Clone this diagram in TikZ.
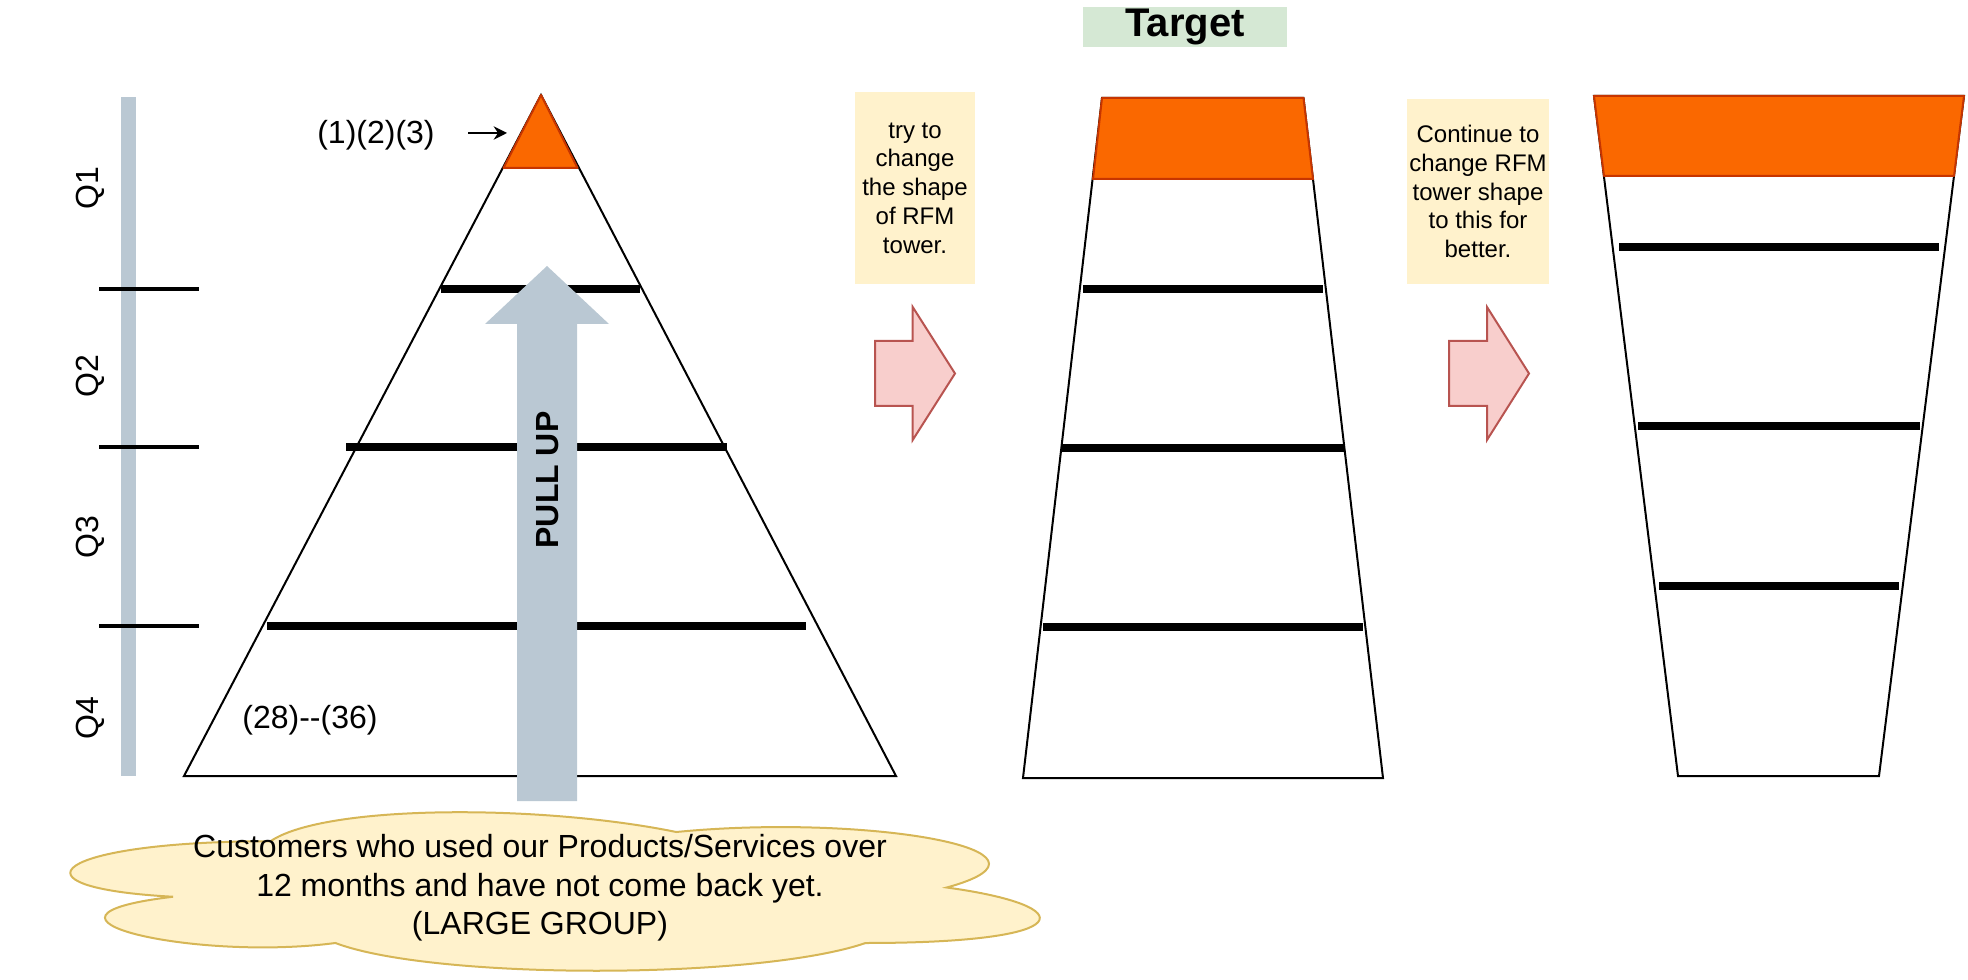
\documentclass[tikz,border=0pt]{standalone}
\usepackage{fontspec}
\setmainfont{Liberation Sans}
\usepackage{xcolor}
\usepackage{tikz}
\usetikzlibrary{arrows.meta}

\definecolor{barGray}{HTML}{BAC8D3}
\definecolor{topOrange}{HTML}{FA6800}
\definecolor{topOrangeLine}{HTML}{C73500}
\definecolor{noteYellow}{HTML}{FFF2CC}
\definecolor{cloudLine}{HTML}{D6B656}
\definecolor{stepPink}{HTML}{F8CECC}
\definecolor{stepPinkLine}{HTML}{B85450}
\definecolor{targetGreen}{HTML}{D5E8D4}

\begin{document}
\begin{tikzpicture}[x=0.75pt,y=0.75pt,yscale=-1,xscale=1,
  outline/.style={line width=1.5pt},
  rung/.style={line width=6pt},
  tick/.style={line width=3pt},
  toptier/.style={fill=topOrange,draw=topOrangeLine,line width=1.5pt,line join=round},
  stepArrow/.style={fill=stepPink,draw=stepPinkLine,line width=1.5pt},
  bigtext/.style={inner sep=0pt,font=\fontsize{24}{28.8}\selectfont},
  notetext/.style={fill=noteYellow,inner sep=0pt,align=center,font=\fontsize{18}{21.6}\selectfont}]

\useasboundingbox (0,0) rectangle (1968,980);

%Shape: Rectangle [quarter bar]
\fill [barGray] (120.5,97) rectangle (135.5,776);
%Straight Lines [quarter ticks]
\draw [tick] (99,289) -- (199,289);
\draw [tick] (99,447) -- (199,447);
\draw [tick] (99,626) -- (199,626);

% Text Node
\node [bigtext,rotate=90] (q1) at (90,188) {Q1};
% Text Node
\node [bigtext,rotate=90] (q2) at (90,376) {Q2};
% Text Node
\node [bigtext,rotate=90] (q3) at (90,537) {Q3};
% Text Node
\node [bigtext,rotate=90] (q4) at (90,718) {Q4};

%Shape: Triangle [rfm tower]
\draw [outline] (541,95) -- (896,776) -- (184,776) -- cycle;
%Shape: Triangle [top tier]
\draw [toptier] (541,95) -- (577.5,168) -- (503.5,168) -- cycle;
%Straight Lines
\draw [rung] (440.5,289) -- (640,289);
\draw [rung] (346,447) -- (727,447);
\draw [rung] (267,626) -- (806,626);

% Text Node
\node [bigtext] (best) at (376,135) {(1)(2)(3)};
\coordinate (bestTail) at (468,133);
\coordinate (bestTip) at (507,133);
\draw [outline,-{Stealth[length=10pt,width=10pt]}] (bestTail) -- (bestTip);
% Text Node
\node [bigtext] (rest) at (310,720) {(28)-{}-(36)};

%Shape: Up Arrow [pull up]
\fill [barGray] (517,801) -- (517,324) -- (485,324) -- (547,266) -- (609,324) -- (577,324) -- (577,801) -- cycle;
% Text Node
\node [bigtext,rotate=90,font=\fontsize{24}{28.8}\selectfont\bfseries] (pullup) at (548,480) {PULL UP};

%Shape: Cloud [customers]
\begin{scope}[shift={(0,795)},x=811.5pt,y=138.75pt]
\draw [fill=noteYellow,draw=cloudLine,line width=1.5pt] (0.25,0.25) .. controls (0.05,0.25) and (0,0.5) .. (0.16,0.55)
  .. controls (0,0.66) and (0.18,0.9) .. (0.31,0.8)
  .. controls (0.4,1) and (0.7,1) .. (0.8,0.8)
  .. controls (1,0.8) and (1,0.6) .. (0.875,0.5)
  .. controls (1,0.3) and (0.8,0.1) .. (0.625,0.2)
  .. controls (0.5,0.05) and (0.3,0.05) .. (0.25,0.25) -- cycle;
\end{scope}
% Text Node
\node [bigtext,align=center] (customers) at (540,888) {Customers who used our Products/Services over\\12 months and have not come back yet.\\(LARGE GROUP)};

% Text Node
\node [notetext,minimum width=90pt,minimum height=144pt] (note1) at (915,188) {try to\\change\\the shape\\of RFM\\tower.};
%Shape: Right Arrow
\draw [stepArrow] (875,341) -- (912.7,341) -- (912.7,307) -- (955,373.5) -- (912.7,440) -- (912.7,406) -- (875,406) -- cycle;

% Text Node
\node [fill=targetGreen,inner sep=0pt,minimum width=153pt,minimum height=30pt,font=\fontsize{30}{36}\selectfont\bfseries] (target) at (1185,27) {Target};

%Shape: Trapezoid [target tower]
\draw [outline] (1102,98) -- (1303.5,98) -- (1383,778) -- (1023,778) -- cycle;
\draw [toptier] (1102,98) -- (1303.5,98) -- (1313,179) -- (1093,179) -- cycle;
%Straight Lines
\draw [rung] (1083,289) -- (1323,289);
\draw [rung] (1062,448) -- (1344,448);
\draw [rung] (1043,627) -- (1363,627);

% Text Node
\node [notetext,minimum width=106.5pt,minimum height=138.75pt] (note2) at (1478,191.5) {Continue to\\change RFM\\tower shape\\to this for\\better.};
%Shape: Right Arrow
\draw [stepArrow] (1449,341) -- (1487,341) -- (1487,307) -- (1529,373.5) -- (1487,440) -- (1487,406) -- (1449,406) -- cycle;

%Shape: Trapezoid [better tower]
\draw [outline] (1594,96) -- (1964,96) -- (1879,776) -- (1678,776) -- cycle;
\draw [toptier] (1594,96) -- (1964,96) -- (1954,176) -- (1604,176) -- cycle;
%Straight Lines
\draw [rung] (1619,247) -- (1939,247);
\draw [rung] (1638,426) -- (1920,426);
\draw [rung] (1659,586) -- (1899,586);

\end{tikzpicture}
\end{document}
